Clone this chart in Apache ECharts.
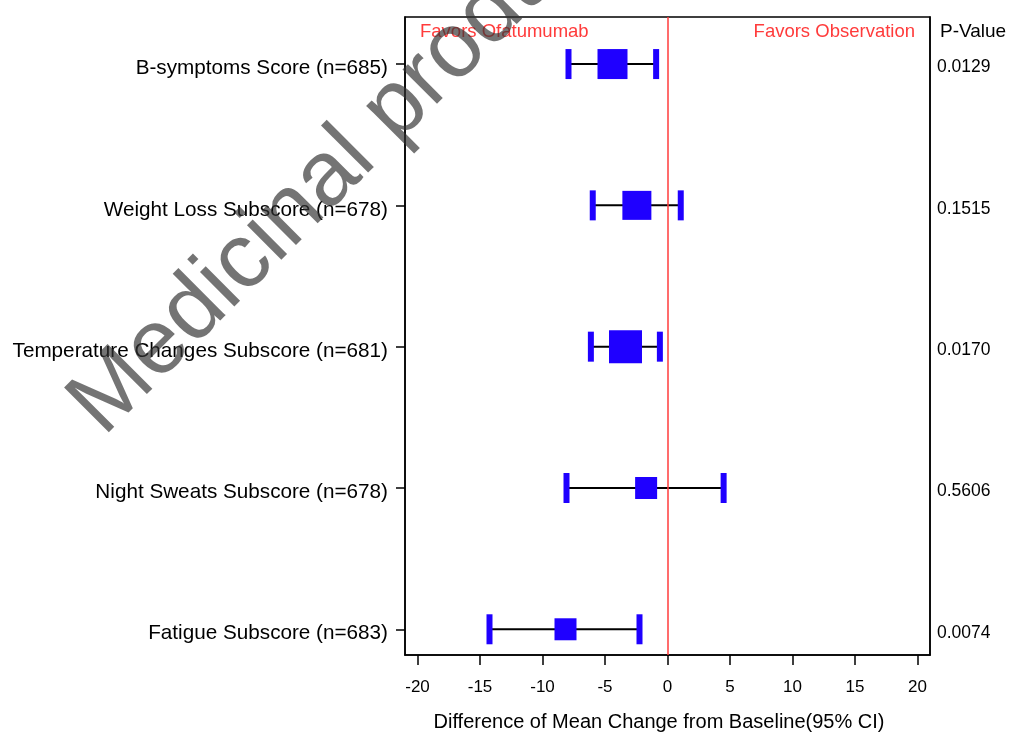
<!DOCTYPE html>
<html>
<head>
<meta charset="utf-8">
<script src="https://cdn.jsdelivr.net/npm/echarts@6/dist/echarts.min.js"></script>
<style>html,body{margin:0;padding:0;background:#fff;}#chart{width:1010px;height:733px;}</style>
</head>
<body>
<div id="chart"></div>
<script>
// ---- data ----
var categories = ['B-symptoms Score (n=685)', 'Weight Loss Subscore (n=678)', 'Temperature Changes Subscore (n=681)', 'Night Sweats Subscore (n=678)', 'Fatigue Subscore (n=683)'];
var estimates = [-4.4, -2.45, -3.36, -1.71, -8.16];
var lowerCI = [-7.92, -5.98, -6.13, -8.08, -14.24];
var upperCI = [-0.91, 1.06, -0.61, 4.49, -2.24];
var pValues = ['0.0129', '0.1515', '0.0170', '0.5606', '0.0074'];
var xTicks = [-20, -15, -10, -5, 0, 5, 10, 15, 20];
var rowPositions = [1, 2, 3, 4, 5];

// ---- style ----
var FONT = 'Liberation Sans, Arial, sans-serif';
var BLUE = '#1f00ff';
var RED = '#ff3b3b';
var boxSizePx = [30, 29, 33, 22, 22];

var chart = echarts.init(document.getElementById('chart'), null, {renderer: 'canvas'});

var whiskerData = categories.map(function (c, i) { return [lowerCI[i], upperCI[i], rowPositions[i]]; });
var pointData = categories.map(function (c, i) { return [estimates[i], rowPositions[i]]; });

var yRange = {min: 0.667, max: 5.182};

var option = {
  animation: false,
  backgroundColor: '#fff',
  grid: {left: 405, right: 80, top: 17, bottom: 78, outerBoundsMode: 'none', containLabel: false,
    show: true, borderColor: '#000', borderWidth: 1.5, backgroundColor: 'transparent'},
  xAxis: {
    type: 'value', min: -21, max: 21,
    axisLine: {show: true, onZero: false, lineStyle: {color: '#000', width: 1.5}},
    axisTick: {show: true, length: 10, lineStyle: {color: '#000', width: 1.5}, customValues: xTicks},
    axisLabel: {color: '#000', fontFamily: FONT, fontSize: 17, margin: 24, customValues: xTicks},
    splitLine: {show: false},
    name: 'Difference of Mean Change from Baseline(95% CI)',
    nameLocation: 'middle', nameGap: 57,
    nameTextStyle: {color: '#000', fontFamily: FONT, fontSize: 20, padding: [0, 17, 0, 0]}
  },
  yAxis: [{
    type: 'value', inverse: true, min: yRange.min, max: yRange.max, position: 'left',
    axisLine: {show: true, onZero: false, lineStyle: {color: '#000', width: 1.5}},
    axisTick: {show: true, length: 9, lineStyle: {color: '#000', width: 1.5}, customValues: rowPositions},
    axisLabel: {customValues: rowPositions, margin: 17,
      formatter: function (v) { return '{t|' + categories[Math.round(v) - 1] + '}'; },
      rich: {t: {color: '#000', fontFamily: FONT, fontSize: 20.7, padding: [9, 0, 0, 0]}}},
    splitLine: {show: false}
  }, {
    type: 'value', inverse: true, min: yRange.min, max: yRange.max, position: 'right',
    axisLine: {show: true, onZero: false, lineStyle: {color: '#000', width: 1.5}},
    axisTick: {show: false},
    axisLabel: {customValues: rowPositions, margin: 7,
      formatter: function (v) { return '{p|' + pValues[Math.round(v) - 1] + '}'; },
      rich: {p: {color: '#000', fontFamily: FONT, fontSize: 17.5, padding: [7, 0, 0, 0]}}},
    splitLine: {show: false}
  }],
  graphic: [
    {type: 'text', left: 420, top: 22, z: 50, style: {text: 'Favors Ofatumumab', fill: RED, font: '18.5px ' + FONT}},
    {type: 'text', right: 95, top: 22, z: 50, style: {text: 'Favors Observation', fill: RED, font: '18.5px ' + FONT}},
    {type: 'text', left: 940, top: 22, z: 50, style: {text: 'P-Value', fill: '#000', font: '19px ' + FONT}},
    {type: 'text', x: 118, y: 452, rotation: Math.PI / 4, z: 100,
      style: {text: 'Medicinal product no longer authorised', fill: 'rgba(50,50,50,0.68)', font: '92px ' + FONT, verticalAlign: 'bottom', align: 'left'}}
  ],
  series: [{
    type: 'custom',
    coordinateSystem: 'cartesian2d',
    data: whiskerData,
    z: 3,
    renderItem: function (params, api) {
      var lo = api.coord([api.value(0), api.value(2)]);
      var hi = api.coord([api.value(1), api.value(2)]);
      var capW = 6, capH = 30;
      return {
        type: 'group',
        children: [
          {type: 'line', shape: {x1: lo[0], y1: lo[1], x2: hi[0], y2: hi[1]}, style: {stroke: '#000', lineWidth: 2}},
          {type: 'rect', shape: {x: lo[0] - capW / 2, y: lo[1] - capH / 2, width: capW, height: capH}, style: {fill: BLUE}},
          {type: 'rect', shape: {x: hi[0] - capW / 2, y: hi[1] - capH / 2, width: capW, height: capH}, style: {fill: BLUE}}
        ]
      };
    },
    markLine: {
      silent: true, symbol: ['none', 'none'], label: {show: false},
      lineStyle: {color: RED, width: 1.5, type: 'solid'},
      data: [{xAxis: 0}]
    }
  }, {
    type: 'scatter',
    data: pointData,
    symbol: 'rect',
    z: 4,
    symbolSize: function (v, p) { return boxSizePx[p.dataIndex]; },
    itemStyle: {color: BLUE, opacity: 1}
  }]
};
chart.setOption(option);
</script>
</body>
</html>
